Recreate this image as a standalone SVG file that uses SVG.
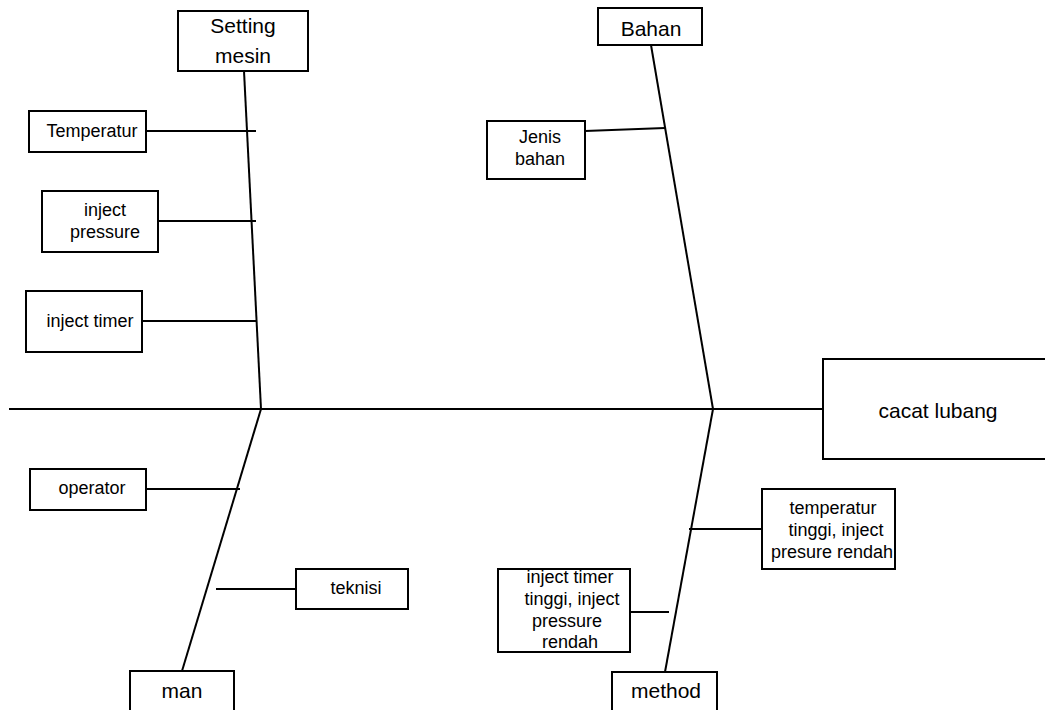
<svg xmlns="http://www.w3.org/2000/svg" width="1045" height="710" viewBox="0 0 1045 710">
<style>
.box{fill:#fff;stroke:#000;stroke-width:2}
.ln{stroke:#000;stroke-width:2;fill:none}
.big{font-family:"Liberation Sans",Arial,sans-serif;font-size:21px;fill:#000;text-anchor:middle}
.sm{font-family:"Liberation Sans",Arial,sans-serif;font-size:18px;fill:#000;text-anchor:middle}
</style>
<rect width="1045" height="710" fill="#fff"/>
<g id="connectors">
<line class="ln" x1="9" y1="409" x2="823" y2="409"/>
<line class="ln" x1="244" y1="71" x2="261" y2="409"/>
<line class="ln" x1="651" y1="45" x2="713" y2="409"/>
<line class="ln" x1="261" y1="409" x2="182" y2="671"/>
<line class="ln" x1="713" y1="409" x2="665" y2="672"/>
<line class="ln" x1="146" y1="131" x2="256" y2="131"/>
<line class="ln" x1="158" y1="221" x2="256" y2="221"/>
<line class="ln" x1="142" y1="321" x2="257" y2="321"/>
<line class="ln" x1="585" y1="131" x2="665" y2="128"/>
<line class="ln" x1="146" y1="489" x2="240" y2="489"/>
<line class="ln" x1="216" y1="589" x2="296" y2="589"/>
<line class="ln" x1="689" y1="529" x2="762" y2="529"/>
<line class="ln" x1="630" y1="612" x2="669" y2="612"/>
</g>
<g id="setting-mesin">
<rect class="box" x="178" y="11" width="130" height="60"/>
<text class="big" x="243" y="33">Setting</text>
<text class="big" x="243" y="63">mesin</text>
</g>
<g id="bahan">
<rect class="box" x="598" y="8" width="104" height="37"/>
<text class="big" x="651" y="36">Bahan</text>
</g>
<g id="cacat-lubang">
<rect class="box" x="823" y="359" width="230" height="100"/>
<text class="big" x="938" y="418">cacat lubang</text>
</g>
<g id="temperatur">
<rect class="box" x="29" y="111" width="117" height="41"/>
<text class="sm" x="92" y="137">Temperatur</text>
</g>
<g id="inject-pressure">
<rect class="box" x="42" y="191" width="116" height="61"/>
<text class="sm" x="105" y="216">inject</text>
<text class="sm" x="105" y="238">pressure</text>
</g>
<g id="inject-timer">
<rect class="box" x="26" y="291" width="116" height="61"/>
<text class="sm" x="90" y="327">inject timer</text>
</g>
<g id="jenis-bahan">
<rect class="box" x="487" y="121" width="98" height="58"/>
<text class="sm" x="540" y="143">Jenis</text>
<text class="sm" x="540" y="165">bahan</text>
</g>
<g id="operator">
<rect class="box" x="30" y="469" width="116" height="41"/>
<text class="sm" x="92" y="494">operator</text>
</g>
<g id="teknisi">
<rect class="box" x="296" y="569" width="112" height="40"/>
<text class="sm" x="356" y="594">teknisi</text>
</g>
<g id="man">
<rect class="box" x="130" y="671" width="104" height="45"/>
<text class="big" x="182" y="698">man</text>
</g>
<g id="method">
<rect class="box" x="612" y="672" width="105" height="45"/>
<text class="big" x="666" y="698">method</text>
</g>
<g id="temperatur-tinggi">
<rect class="box" x="762" y="489" width="133" height="80"/>
<text class="sm" x="833" y="514">temperatur</text>
<text class="sm" x="836" y="536">tinggi, inject</text>
<text class="sm" x="832" y="558">presure rendah</text>
</g>
<g id="inject-timer-tinggi">
<rect class="box" x="498" y="569" width="132" height="83"/>
<text class="sm" x="570" y="583">inject timer</text>
<text class="sm" x="572" y="605">tinggi, inject</text>
<text class="sm" x="567" y="627">pressure</text>
<text class="sm" x="570" y="648">rendah</text>
</g>
</svg>
